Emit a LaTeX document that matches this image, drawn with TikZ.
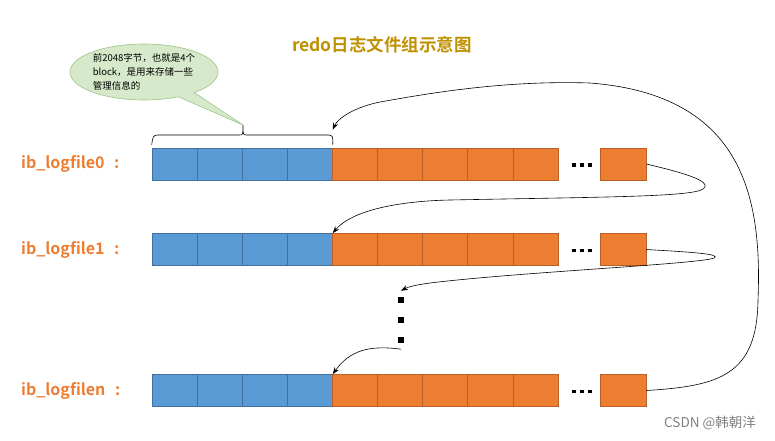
\documentclass[tikz,border=0pt]{standalone}
\usepackage{fontspec}
\setmainfont{Noto Sans CJK SC}[BoldFont={Noto Sans CJK SC Bold}]
\usetikzlibrary{arrows.meta}
\usetikzlibrary{shapes.callouts}

\definecolor{blkblue}{HTML}{5B9BD5}
\definecolor{blkblueline}{HTML}{41719C}
\definecolor{blkorange}{HTML}{ED7D31}
\definecolor{blkorangeline}{HTML}{B9602A}
\definecolor{titlegold}{HTML}{BF9000}
\definecolor{notegreen}{HTML}{D6E9CA}
\definecolor{notegreenline}{HTML}{9CC38B}

\tikzset{
  blk/.style={rectangle, inner sep=0, minimum width=45.1pt, minimum height=32pt, line width=0.6pt},
  blueblk/.style={blk, fill=blkblue, draw=blkblueline},
  orangeblk/.style={blk, fill=blkorange, draw=blkorangeline},
  filelabel/.style={anchor=west, inner sep=0, text=blkorange, font=\fontsize{16pt}{18pt}\selectfont\bfseries},
  link/.style={-{Stealth[length=7pt,width=5pt]}, line width=0.6pt},
}

\begin{document}
\begin{tikzpicture}[x=1pt, y=-1pt]

	\useasboundingbox (0,0) rectangle (775,440);

	\node[text=titlegold, font=\fontsize{17.5pt}{20pt}\selectfont\bfseries] (title) at (382,45) {redo日志文件组示意图};

	% the three log files
	\foreach \r/\y in {0/164,1/249.5,n/390.5}{
		\node[filelabel] (lab\r) at (21,\y) {ib\_logfile\r\hspace{0.6em}:};
		\foreach \i in {1,...,4}
			\node[blueblk] (r\r-\i) at ({152+45.1*(\i-0.5)},\y) {};
		\foreach \i in {5,...,9}
			\node[orangeblk] (r\r-\i) at ({152+45.1*(\i-0.5)},\y) {};
		\node[inner sep=0] (dots\r) at (582,\y+1) {\rule{3.5pt}{3.5pt}\hspace{4.5pt}\rule{3.5pt}{3.5pt}\hspace{4.5pt}\rule{3.5pt}{3.5pt}};
		\node[orangeblk, minimum width=46pt] (r\r-last) at (623,\y) {};
	}

	\node[inner sep=0, align=center, font=\fontsize{6pt}{20pt}\selectfont] (vdots) at (401,320)
		{\rule{6pt}{6pt}\\\rule{6pt}{6pt}\\\rule{6pt}{6pt}};

	% brace over the first four blocks
	\coordinate (bracetip) at (243,125);
	\draw[line width=0.6pt] ([yshift=3pt]r0-1.north west) .. controls (153,136) .. (157,135)
		-- (239,135) .. controls (243,135) .. (bracetip)
		.. controls (243,135) .. (247,135) -- (329,135)
		.. controls (333,136) .. ([yshift=3pt]r0-4.north east);

	\node[ellipse callout, callout absolute pointer={(bracetip)}, fill=notegreen, draw=notegreenline, line width=0.6pt,
		inner sep=0, minimum width=148pt, minimum height=56pt, align=left,
		font=\fontsize{9.5pt}{14pt}\selectfont] (note) at (144,72)
		{前2048字节，也就是4个\\block，是用来存储一些\\管理信息的};

	% wrap around arrows
	\draw[link] (r0-last.east) .. controls (680,172) and (714,181) .. (703,189)
		.. controls (692,197) and (600,197) .. (450,200)
		.. controls (400,201) and (352,210) .. (r1-4.north east);

	\draw[link] (r1-last.east) .. controls (690,252) and (722,254) .. (714,258)
		.. controls (700,264) and (520,272) .. (430,283)
		.. controls (415,285) and (408,287) .. ([yshift=6pt]vdots.north);

	\draw[link] ([yshift=-6pt]vdots.south) .. controls (370,345) and (350,350) .. (rn-4.north east);

	\draw[link] (rn-last.east) .. controls (720,386) and (757,375) .. (758,300)
		.. controls (762,200) and (745,95) .. (590,83)
		.. controls (500,80) and (420,95) .. (380,102)
		.. controls (355,107) and (338,118) .. ([yshift=18pt]r0-4.north east);

	\node[text=gray, font=\fontsize{13.5pt}{15pt}\selectfont] (mark) at (710,423) {CSDN @韩朝洋};

\end{tikzpicture}
\end{document}
